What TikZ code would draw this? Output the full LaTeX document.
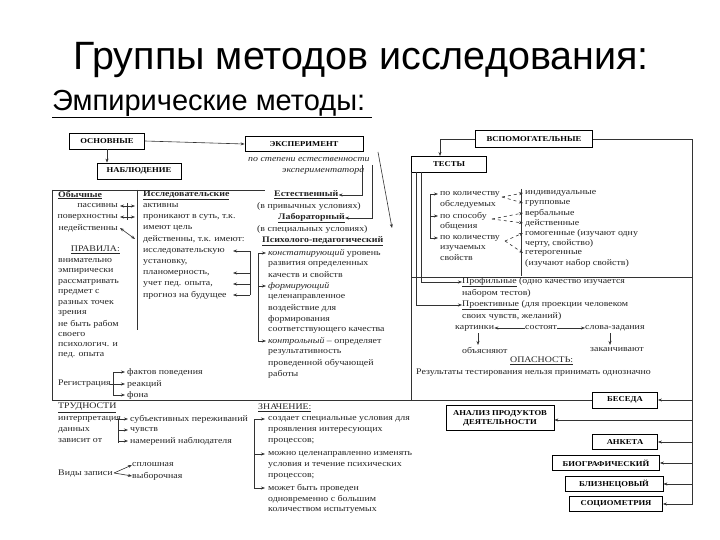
\documentclass[tikz,border=0pt]{standalone}
\usepackage{fontspec}
\setmainfont[FakeStretch=1.15]{Liberation Serif}
\newfontfamily\titlefont{Liberation Sans}
\usetikzlibrary{arrows.meta}
\begin{document}
\begin{tikzpicture}[x=1pt,y=-1pt,
 tx/.style={anchor=west,inner sep=0pt,font=\fontsize{8.6}{9}\selectfont,text=black!85},
 bx/.style={draw,thick,inner sep=0pt,font=\fontsize{7.5}{9}\selectfont\bfseries,align=center},
 ln/.style={black!80,line width=0.6pt},
 ar/.style={ln,-{Stealth[length=4pt,width=3pt]}},
 dar/.style={ln,{Stealth[length=4pt,width=3pt]}-{Stealth[length=4pt,width=3pt]}}]
\fill[white] (0,0) rectangle (720,540);
\useasboundingbox (0,0) rectangle (720,540);
\node[font=\titlefont\fontsize{39.5}{42}\selectfont] (title) at (361,60) {Группы методов исследования:};
\node[anchor=west,inner sep=0pt,font=\titlefont\fontsize{29}{31}\selectfont] (emp) at (52,103) {Эмпирические методы:};
\draw[line width=1pt] (52,118) -- (372,118);
% boxes top
\node[bx,minimum width=75,minimum height=16] (osn) at (107,141) {ОСНОВНЫЕ};
\node[bx,minimum width=84,minimum height=16] (nab) at (139,171) {НАБЛЮДЕНИЕ};
\node[bx,minimum width=118,minimum height=15] (eks) at (304,144) {ЭКСПЕРИМЕНТ};
\draw[ar] (osn.south) -- (osn.south |- nab.north);
\draw[ar] (osn.east) -- (eks.west);
\node[tx,font=\fontsize{8.6}{9}\selectfont\itshape] (st1) at (248,160) {по степени естественности};
\node[tx,font=\fontsize{8.6}{9}\selectfont\itshape] (st2) at (282,171) {экспериментатора};
% observation frame
\draw[ln] (52,190) -- (265,190);
\draw[ln] (52,190) -- (52,400);
\draw[ln] (137,190) -- (137,330);
\draw[ln] (52,400) -- (593,400);
% Обычные
\node[tx,font=\fontsize{8.6}{9}\selectfont\bfseries] (ob) at (58,195) {\underline{Обычные}};
\node[tx,anchor=east] (p1) at (118,206) {пассивны};
\node[tx,anchor=east] (p2) at (118,217) {поверхностны};
\node[tx,anchor=east] (p3) at (118,228) {недейственны};
\node[tx,anchor=east] (prav) at (120,250) {\underline{ПРАВИЛА:}};
\foreach \t [count=\i] in {внимательно,эмпирически,рассматривать,предмет с,разных точек,зрения,не быть рабом,своего,психологич. и,пед. опыта}
  \node[tx] at (58,250.5+10.5*\i) {\t};
% Исследовательские
\node[tx,font=\fontsize{8.6}{9}\selectfont\bfseries] (is) at (143,195) {\underline{Исследовательские}};
\node[tx] (a1) at (143,206) {активны};
\node[tx] (a2) at (143,217) {проникают в суть, т.к.};
\node[tx] (a3) at (143,228) {имеют цель};
\node[tx] (a4) at (143,239) {действенны, т.к. имеют:};
\node[tx] (a5) at (143,251) {исследовательскую};
\node[tx] (a6) at (143,262) {установку,};
\node[tx] (a7) at (143,273) {планомерность,};
\node[tx] (a8) at (143,284) {учет пед. опыта,};
\node[tx] (a9) at (143,295) {прогноз на будущее};
\draw[dar] (120,206) -- (135,206);
\draw[dar] (120,217) -- (135,217);
\draw[dar] (120,228) -- (135,239);
\draw[ln] (127,203) -- (127,220);
\draw[ln] (250,251) -- (250,295);
\foreach \y in {251,273,284,295} \draw[ar] (250,\y) -- (233,\y);
% Experiment kinds
\node[tx,font=\fontsize{8.6}{9}\selectfont\bfseries] (est) at (274,195) {\underline{Естественный}};
\node[tx] at (257,206) {(в привычных условиях)};
\node[tx,font=\fontsize{8.6}{9}\selectfont\bfseries] (lab) at (278,218) {\underline{Лабораторный}};
\node[tx] at (257,229) {(в специальных условиях)};
\node[tx,font=\fontsize{8.6}{9}\selectfont\bfseries] (psy) at (262,241) {\underline{Психолого-педагогический}};
\draw[ar] (362,165) -- (362,195) -- (est.east);
\draw[ar] (372,165) -- (372,218) -- (lab.east);
\draw[ar] (378,152) -- (392,228);
\foreach \t/\y in {{\textit{констатирующий} уровень}/253,развития определенных/264,качеств и свойств/275,\textit{формирующий}/286,целенаправленное/297,воздействие для/308,формирования/319,соответствующего качества/330,{\textit{контрольный} – определяет}/341,результативность/352,проведенной обучающей/363,работы/374}
  \node[tx] at (268,\y) {\t};
\draw[ln] (258,253) -- (258,341);
\foreach \y in {253,286,341} \draw[ar] (258,\y) -- (266,\y);
% Регистрация
\node[tx] (reg) at (58,384) {Регистрация};
\draw[ln] (113,372) -- (113,395);
\draw[ln] (110,384) -- (113,384);
\node[tx] (f1) at (127,372) {фактов поведения};
\node[tx] (f2) at (127,384) {реакций};
\node[tx] (f3) at (127,395) {фона};
\foreach \y in {372,384,395} \draw[ar] (113,\y) -- (125,\y);
% bottom left
\node[tx] at (58,408) {\underline{ТРУДНОСТИ}};
\node[tx] at (58,419) {интерпретация};
\node[tx] at (58,430) {данных};
\node[tx] at (58,441) {зависит от};
\draw[ln] (118,419) -- (118,443);
\draw[ln] (116,419) -- (118,419);
\node[tx] at (130,419) {субъективных переживаний};
\node[tx] at (130,430) {чувств};
\node[tx] at (130,441) {намерений наблюдателя};
\foreach \y in {419,430,441} \draw[ar] (118,\y) -- (128,\y);
\node[tx] (vz) at (58,474) {Виды записи};
\node[tx] (s1) at (132,465) {сплошная};
\node[tx] (s2) at (132,476) {выборочная};
\draw[ar] (114,473) -- (s1.west);
\draw[ar] (114,473) -- (s2.west);
% ЗНАЧЕНИЕ
\node[tx] at (258,408) {\underline{ЗНАЧЕНИЕ:}};
\draw[ln] (254,419) -- (254,488);
\foreach \y in {419,454,488} \draw[ar] (254,\y) -- (265,\y);
\foreach \t/\y in {создает специальные условия для/419,проявления интересующих/430,процессов;/441,можно целенаправленно изменять/454,условия и течение психических/465,процессов;/476,может быть проведен/488,одновременно с большим/499,количеством испытуемых/510}
  \node[tx] at (268,\y) {\t};
% auxiliary
\node[bx,line width=1.3pt,minimum width=117,minimum height=17] (vsp) at (534,139) {ВСПОМОГАТЕЛЬНЫЕ};
\node[bx,minimum width=75,minimum height=16] (tes) at (449,164) {ТЕСТЫ};
\draw[ar] (vsp.west) -- (440,139) -- (440,156);
\draw[ln] (vsp.east) -- (692,139) -- (692,505);
\draw[ln] (411,172) -- (411,400);
\draw[ln] (411,277) -- (692,277);
\draw[ln] (416,172) -- (416,305);
\draw[ln] (421,172) -- (421,282);
\draw[ln] (430,194) -- (430,238);
\node[tx] (k1) at (440,194) {по количеству};
\node[tx] at (440,204) {обследуемых};
\node[tx] (k2) at (440,216) {по способу};
\node[tx] at (440,226) {общения};
\node[tx] (k3) at (440,238) {по количеству};
\node[tx] at (440,248) {изучаемых};
\node[tx] at (440,258) {свойств};
\foreach \y in {194,216,238} \draw[ar] (430,\y) -- (438,\y);
\draw[ln] (521,189) -- (521,276);
\foreach \t/\y in {индивидуальные/193,групповые/203,вербальные/213,действенные/223,{гомогенные (изучают одну}/233,{черту, свойство)}/243,гетерогенные/253,(изучают набор свойств)/263}
  \node[tx] at (525,\y) {\t};
\draw[ar,dashed] (502,197) -- (523,193);
\draw[ar,dashed] (502,197) -- (523,203);
\draw[ar,dashed] (492,219) -- (523,213);
\draw[ar,dashed] (492,219) -- (523,223);
\draw[ar,dashed] (505,241) -- (523,233);
\draw[ar,dashed] (505,241) -- (523,253);
\node[tx] (prof) at (462,282) {\underline{Профильные} (одно качество изучается};
\node[tx] at (462,293) {набором тестов)};
\node[tx] (proj) at (462,305) {\underline{Проективные} (для проекции человеком};
\node[tx] at (462,316) {своих чувств, желаний)};
\draw[ar] (421,282) -- (prof.west);
\draw[ar] (416,305) -- (proj.west);
\node[tx] (kart) at (455,328) {картинки};
\node[tx] (sost) at (525,328) {состоят};
\node[tx] (slov) at (585,328) {слова-задания};
\draw[ar] (sost.west) -- (kart.east);
\draw[ar] (sost.east) -- (slov.west);
\node[tx] (obj) at (462,350) {объясняют};
\node[tx] (zak) at (590,350) {заканчивают};
\draw[ar] (478,333) -- (478,345);
\draw[ar] (610,333) -- (610,345);
\node[tx] at (510,361) {\underline{ОПАСНОСТЬ:}};
\node[tx] at (416,373) {Результаты тестирования нельзя принимать однозначно};
% right boxes
\node[bx,minimum width=65,minimum height=16] (bes) at (625,400) {БЕСЕДА};
\node[bx,minimum width=108,minimum height=25] (anal) at (500,418) {АНАЛИЗ ПРОДУКТОВ\\ДЕЯТЕЛЬНОСТИ};
\node[bx,minimum width=65,minimum height=15] (ank) at (625,442) {АНКЕТА};
\node[bx,minimum width=107,minimum height=15] (bio) at (606,463) {БИОГРАФИЧЕСКИЙ};
\node[bx,minimum width=98,minimum height=15] (bli) at (614,484) {БЛИЗНЕЦОВЫЙ};
\node[bx,minimum width=93,minimum height=15] (soc) at (616,504) {СОЦИОМЕТРИЯ};
\foreach \n in {bes,ank,bio,bli,soc} \draw[ar] (692,0 |- \n.east) -- (\n.east);
\draw[ar] (692,420) -- (anal.east |- 0,420);
\end{tikzpicture}
\end{document}
